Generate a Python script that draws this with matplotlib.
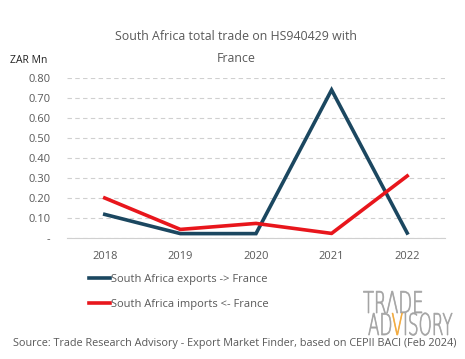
import matplotlib.pyplot as plt
from matplotlib.textpath import TextPath
from matplotlib.patches import PathPatch
from matplotlib.font_manager import FontProperties
from matplotlib.transforms import Affine2D, IdentityTransform

# data
years = ["2018", "2019", "2020", "2021", "2022"]
exports = [0.118, 0.022, 0.022, 0.74, 0.025]
imports = [0.20, 0.043, 0.073, 0.023, 0.31]
yticks = [0, 0.1, 0.2, 0.3, 0.4, 0.5, 0.6, 0.7, 0.8]
ytick_labels = ["-", "0.10", "0.20", "0.30", "0.40", "0.50", "0.60", "0.70", "0.80"]

dark = "#1b4760"
red = "#e8161c"
grey = "#595959"

plt.rcParams["font.family"] = ["Open Sans", "DejaVu Sans"]

fig = plt.figure(figsize=(4.65, 3.59), dpi=100)
ax = fig.add_axes([0.144, 0.337, 0.813, 0.446])

x = range(len(years))
l1, = ax.plot(x, exports, color=dark, lw=2.6, solid_joinstyle="miter")
l2, = ax.plot(x, imports, color=red, lw=2.6)

ax.set_xlim(-0.5, len(years) - 0.5)
ax.set_ylim(0, 0.8)
ax.set_xticks(list(x))
ax.set_xticklabels(years, color=grey, fontsize=8)
ax.set_yticks(yticks)
ax.set_yticklabels(ytick_labels, color=grey, fontsize=8)
ax.tick_params(length=0, pad=12)
ax.tick_params(axis="x", pad=9)

ax.grid(axis="y", color="#d0d0d0", ls=(0, (4, 3)), lw=0.8)
ax.set_axisbelow(True)
for s in ["top", "right", "left"]:
    ax.spines[s].set_visible(False)
ax.spines["bottom"].set_color("#d0d0d0")

fig.text(0.507, 0.897, "South Africa total trade on HS940429 with",
         ha="center", va="center", color=grey, fontsize=8.9)
fig.text(0.507, 0.838, "France", ha="center", va="center", color=grey, fontsize=8.9)
fig.text(0.022, 0.832, "ZAR Mn", ha="left", va="center", color="#222222", fontsize=7.5)

fig.legend([l1, l2], ["South Africa exports -> France", "South Africa imports <- France"],
           loc="upper left", bbox_to_anchor=(0.17, 0.265), frameon=False,
           fontsize=8, labelcolor=grey, handlelength=1.9, handletextpad=0.1,
           labelspacing=1.3)

# logo drawn as squeezed text paths (pixel coords, origin bottom-left)
logo_fp = FontProperties(family="DejaVu Sans", weight="light")
logo_grey = "#a3a3a3"
logo_orange = "#f2a93b"


def logo_row(parts, x0, y0, size, sx):
    xx = 0
    for txt, col in parts:
        tp = TextPath((xx, 0), txt, size=size, prop=logo_fp)
        tr = Affine2D().scale(sx, 1).translate(x0, y0)
        fig.patches.append(PathPatch(tp, fc=col, ec=col, lw=0.5,
                                     transform=tr + IdentityTransform(),
                                     figure=fig))
        xx = tp.get_extents().x1 + size * 0.03


logo_row([("TR", logo_grey), ("\u039b", logo_grey), ("DE", logo_grey)], 363, 46, 30, 0.6)
logo_row([("AD", logo_grey), ("V", logo_orange), ("ISORY", logo_grey)], 368, 24, 30, 0.56)

fig.text(0.505, 0.042,
         "Source: Trade Research Advisory - Export Market Finder, based on CEPII BACI (Feb 2024)",
         ha="center", va="center", color=grey, fontsize=7.8)

fig.savefig("out.png", dpi=100)
